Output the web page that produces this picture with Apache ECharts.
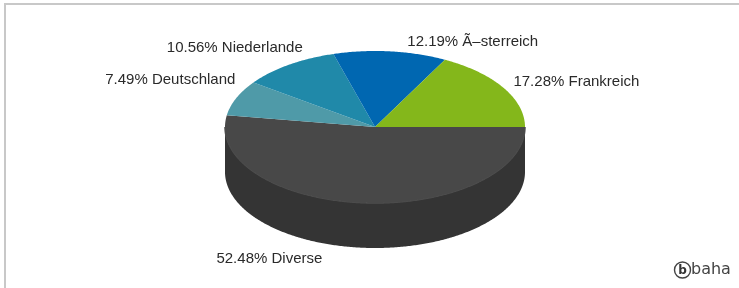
<!DOCTYPE html>
<html><head><meta charset="utf-8">
<script src="https://cdn.jsdelivr.net/npm/echarts@6/dist/echarts.min.js"></script>
<style>html,body{margin:0;padding:0;background:#fff}#c{width:739px;height:288px}</style>
</head><body><div id="c"></div>
<script>
// ---- data ----
const categories = ['Diverse', 'Deutschland', 'Niederlande', 'Ã–sterreich', 'Frankreich'];
const shares = [52.48, 7.49, 10.56, 12.19, 17.28];

// ---- styles ----
const topColors = ['#484848', '#4f9aa8', '#2089a9', '#0067b1', '#84b71b'];
const sideColors = ['#343434', '#3d7884', '#196b85', '#00508b', '#678f15'];
const labelNudge = [[-41, 11], [-1, -18], [14, -17], [17, -10], [10, -6]];

const CX = 375, CY = 127, RX = 150, RY = 76, DEPTH = 45;
const total = shares.reduce((a, b) => a + b, 0);
const starts = [], ends = [];
let acc = 0;
shares.forEach(v => { starts.push(acc / total * 2 * Math.PI); acc += v; ends.push(acc / total * 2 * Math.PI); });

function pt(a, dy) { return [CX + RX * Math.cos(a), CY + RY * Math.sin(a) + (dy || 0)]; }
function arc(a0, a1, dy) {
  const n = Math.max(2, Math.ceil((a1 - a0) / 0.01));
  const pts = [];
  for (let i = 0; i <= n; i++) pts.push(pt(a0 + (a1 - a0) * i / n, dy));
  return pts;
}

function renderItem(params, api) {
  const i = params.dataIndex;
  const a0 = starts[i], a1 = ends[i];
  const children = [];
  const s0 = Math.max(a0, 0), s1 = Math.min(a1, Math.PI);
  if (s1 > s0) {
    const top = arc(s0, s1, 0);
    const bot = arc(s0, s1, DEPTH).reverse();
    children.push({ type: 'polygon', shape: { points: top.concat(bot) }, style: { fill: sideColors[i] } });
    children.push({ type: 'polyline', shape: { points: top }, style: { stroke: '#4e4e4e', lineWidth: 1.5, fill: null } });
  }
  children.push({ type: 'polygon', shape: { points: [[CX, CY]].concat(arc(a0, a1, 0)) }, style: { fill: topColors[i] } });
  const m = (a0 + a1) / 2, c = Math.cos(m), s = Math.sin(m);
  const base = pt(m, s > 0 ? DEPTH : 0);
  children.push({
    type: 'text', z2: 100,
    x: base[0] + labelNudge[i][0], y: base[1] + labelNudge[i][1],
    style: {
      text: shares[i].toFixed(2) + '% ' + categories[i],
      fill: '#2a2a2a', font: '15px "Liberation Sans", Arial, sans-serif',
      align: c >= 0 ? 'left' : 'right', verticalAlign: 'middle'
    }
  });
  return { type: 'group', children };
}

const chart = echarts.init(document.getElementById('c'), null, { renderer: 'canvas' });
chart.setOption({
  animation: false,
  backgroundColor: '#fff',
  graphic: [
    { type: 'line', shape: { x1: 4, y1: 4, x2: 739, y2: 4 }, style: { stroke: '#c8c8c8', lineWidth: 2 } },
    { type: 'line', shape: { x1: 5, y1: 4, x2: 5, y2: 288 }, style: { stroke: '#c8c8c8', lineWidth: 2 } },
    { type: 'circle', shape: { cx: 682.5, cy: 270, r: 8 }, style: { stroke: '#444', lineWidth: 1.4, fill: 'none' } },
    { type: 'text', x: 682.5, y: 270.5, style: { text: 'b', font: 'bold 12px "DejaVu Sans", sans-serif', fill: '#333', align: 'center', verticalAlign: 'middle' } },
    { type: 'text', x: 691, y: 270, style: { text: 'baha', font: '16px "DejaVu Sans", sans-serif', fill: '#444', align: 'left', verticalAlign: 'middle' } }
  ],
  series: [{
    type: 'custom',
    coordinateSystem: 'none',
    renderItem: renderItem,
    data: shares
  }]
});
</script></body></html>
